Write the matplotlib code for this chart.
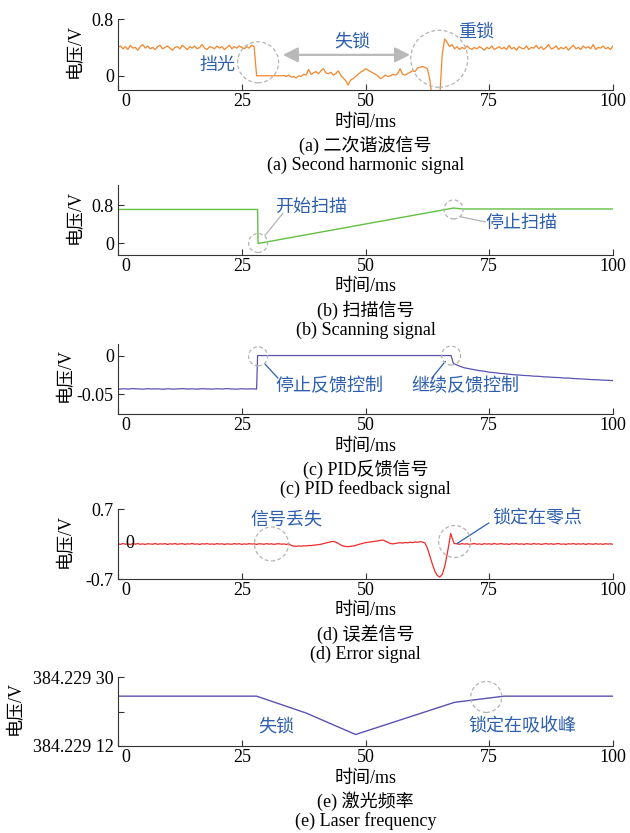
import matplotlib
matplotlib.use("Agg")
import matplotlib.pyplot as plt
from matplotlib.patches import Ellipse
from matplotlib.transforms import offset_copy
import numpy as np

plt.rcParams['font.family'] = ['Liberation Serif', 'Noto Sans CJK SC']
plt.rcParams['font.size'] = 13
plt.rcParams['axes.unicode_minus'] = False

# ---- (a) second harmonic signal, sampled every 0.5 ms ----
t_a = np.arange(0, 100.25, 0.5)
v_a = [
    # 0 - 27.5 ms, locked
    0.40, 0.42, 0.38, 0.41, 0.37, 0.43, 0.39, 0.40, 0.36, 0.41,
    0.44, 0.39, 0.42, 0.38, 0.40, 0.37, 0.41, 0.43, 0.38, 0.40,
    0.42, 0.39, 0.36, 0.40, 0.41, 0.38, 0.43, 0.40, 0.37, 0.41,
    0.39, 0.42, 0.38, 0.40, 0.44, 0.39, 0.37, 0.41, 0.40, 0.38,
    0.42, 0.39, 0.41, 0.37, 0.40, 0.43, 0.38, 0.41, 0.39, 0.42,
    0.40, 0.38, 0.41, 0.39, 0.43, 0.41,
    # 28 - 33.5 ms, light blocked
    0.0, 0.0, 0.0, 0.0, 0.0, 0.0, 0.0, 0.0, 0.0, 0.0, 0.0, 0.005,
    # 34 - 62.5 ms, unlocked
    -0.01, 0.01, -0.02, -0.01, -0.03, 0.00, -0.01, 0.02, 0.01, 0.09,
    0.02, 0.04, 0.06, 0.03, 0.07, 0.10, 0.04, 0.03, 0.05, 0.01,
    0.03, 0.07, 0.01, -0.03, -0.07, -0.13, -0.06, -0.04, -0.01, 0.02,
    0.05, 0.07, 0.10, 0.08, 0.06, 0.04, 0.02, 0.00, -0.04, -0.02,
    0.01, -0.01, 0.00, 0.02, 0.01, 0.03, 0.10, 0.02, 0.01, 0.03,
    0.05, 0.07, 0.06, 0.11, 0.12, 0.13, 0.12, 0.10,
    # 63 - 67.5 ms, relock
    -0.05, -0.35, -0.35, -0.35, -0.30, 0.30, 0.52, 0.47, 0.41, 0.44,
    # 68 - 100 ms, locked again
    0.38, 0.41, 0.37, 0.40, 0.38, 0.42, 0.39, 0.37, 0.40, 0.38,
    0.41, 0.39, 0.36, 0.40, 0.38, 0.42, 0.37, 0.39, 0.41, 0.38,
    0.40, 0.37, 0.43, 0.38, 0.40, 0.36, 0.41, 0.39, 0.38, 0.42,
    0.37, 0.40, 0.39, 0.43, 0.38, 0.41, 0.37, 0.40, 0.44, 0.38,
    0.39, 0.42, 0.37, 0.40, 0.38, 0.41, 0.36, 0.40, 0.43, 0.38,
    0.40, 0.37, 0.42, 0.39, 0.41, 0.38, 0.44, 0.37, 0.40, 0.39,
    0.42, 0.38, 0.40, 0.37, 0.42,
]

# ---- (b) scanning signal ----
t_b = [0, 28.2, 28.3, 67.8, 69.5, 100]
v_b = [0.71, 0.71, 0.0, 0.74, 0.72, 0.72]

# ---- (c) PID feedback signal ----
t_c = list(range(0, 29)) + [28.2, 67.3, 67.7] + list(range(68, 101))
v_c = [
    -0.0438, -0.0432, -0.0436, -0.0430, -0.0434, -0.0437, -0.0431, -0.0435,
    -0.0433, -0.0438, -0.0432, -0.0436, -0.0434, -0.0430, -0.0435, -0.0433,
    -0.0437, -0.0431, -0.0434, -0.0436, -0.0432, -0.0435, -0.0430, -0.0434,
    -0.0437, -0.0432, -0.0435, -0.0433, -0.0436,
    0.0, 0.0, -0.0095,
    -0.0110, -0.0138, -0.0160, -0.0172, -0.0185, -0.0196, -0.0204, -0.0217,
    -0.0222, -0.0231, -0.0236, -0.0243, -0.0250, -0.0253, -0.0259, -0.0262,
    -0.0268, -0.0270, -0.0277, -0.0279, -0.0284, -0.0286, -0.0292, -0.0293,
    -0.0299, -0.0302, -0.0306, -0.0309, -0.0314, -0.0315, -0.0320, -0.0322,
    -0.0326,
]

# ---- (d) error signal ----
t_d_peak = [62.5, 63.0, 63.5, 64.0, 64.5, 65.0, 65.5, 66.0, 66.5, 66.9, 67.2, 67.5, 67.9]
t_d = np.concatenate([np.arange(0, 62.25, 0.5), t_d_peak, np.arange(68.5, 100.25, 0.5)])
v_d = [
    # 0 - 34.5 ms
    0.005, -0.008, 0.010, -0.004, 0.002, -0.010, 0.007, -0.003, 0.009, -0.006,
    0.003, -0.009, 0.006, 0.000, -0.005, 0.011, -0.007, 0.004, -0.002, 0.008,
    -0.010, 0.005, -0.003, 0.009, -0.006, 0.002, 0.007, -0.008, 0.004, -0.001,
    0.010, -0.005, 0.003, -0.009, 0.006, -0.002, 0.008, -0.004, 0.001, -0.007,
    0.009, -0.003, 0.005, -0.010, 0.004, 0.000, -0.006, 0.008, -0.002, 0.006,
    -0.008, 0.003, -0.005, 0.007, -0.001, 0.004, -0.009, 0.005, 0.002, -0.006,
    0.008, -0.003, 0.004, -0.007, 0.002, 0.006, -0.004, 0.001, -0.008, 0.003,
    # 35 - 62 ms
    -0.030, -0.042, -0.046, -0.040, -0.043, -0.036, -0.038, -0.030, -0.033, -0.024,
    -0.020, -0.012, -0.005, 0.008, 0.020, 0.034, 0.045, 0.052, 0.036, 0.012,
    -0.020, -0.040, -0.050, -0.052, -0.046, -0.040, -0.030, -0.012, 0.002, 0.014,
    0.026, 0.034, 0.042, 0.048, 0.054, 0.062, 0.070, 0.080, 0.060, 0.034,
    0.010, 0.002, 0.012, 0.020, 0.026, 0.018, 0.030, 0.024, 0.036, 0.028,
    0.040, 0.034, 0.046, 0.040, 0.020,
    # 62.5 - 67.9 ms
    -0.08, -0.24, -0.40, -0.54, -0.63, -0.66, -0.61, -0.45, -0.20, 0.02, 0.21, 0.12, 0.01,
    # 68.5 - 100 ms
    0.004, -0.006, 0.009, -0.003, 0.006, -0.008, 0.002, 0.010, -0.005, 0.003,
    -0.009, 0.007, -0.002, 0.005, -0.007, 0.011, -0.004, 0.002, 0.008, -0.006,
    0.003, -0.010, 0.006, -0.001, 0.009, -0.005, 0.004, -0.008, 0.007, 0.000,
    -0.006, 0.010, -0.003, 0.005, -0.009, 0.002, 0.008, -0.004, 0.006, -0.007,
    0.003, 0.009, -0.005, 0.001, -0.008, 0.006, -0.002, 0.010, -0.006, 0.004,
    -0.003, 0.007, -0.009, 0.005, 0.001, -0.006, 0.008, -0.004, 0.003, -0.007,
    0.006, -0.002, 0.004, -0.005,
]

# ---- (e) laser frequency ----
t_e = [0, 28, 38, 48, 68, 78, 100]
v_e = [25, 25, 20.6, 15, 23.4, 25, 25]

x_ticks = [0, 25, 50, 75, 100]
x_tick_labels = ['', '25', '50', '75', '100']

BLUE = '#2d5fae'
RING = '#b3b3b3'
PURPLE = '#5b52b3'

W, H = 630, 833
fig = plt.figure(figsize=(W / 100, H / 100), dpi=100)


def panel(top, bottom):
    return fig.add_axes([118 / W, 1 - bottom / H, (613 - 118) / W, (bottom - top) / H])


def style(ax, ylim, yticks, ylabels, label_x, caption_cn, caption_en):
    ax.set_xlim(0, 100)
    ax.set_ylim(*ylim)
    for s in ['top', 'right']:
        ax.spines[s].set_visible(False)
    for s in ['left', 'bottom']:
        ax.spines[s].set_linewidth(0.8)
        ax.spines[s].set_color('#333333')
    ax.set_xticks(x_ticks)
    ax.set_xticklabels(x_tick_labels)
    ax.set_yticks(yticks)
    ax.set_yticklabels(ylabels)
    ax.tick_params(direction='in', length=4, width=0.8, labelsize=13, color='#333333')
    ax.tick_params(axis='x', pad=2)
    ax.tick_params(axis='y', pad=3)
    ax.set_ylabel('电压/V', fontsize=13)
    ax.yaxis.set_label_coords(label_x, 0.55)
    # the "0" sits a little to the right of the axis corner
    ax.text(0, 0, '0', transform=offset_copy(ax.transAxes, fig=fig, x=8, y=-2.8, units='dots'),
            ha='center', va='top', fontsize=13)
    for dy, s in [(32, '时间/ms'), (55.5, caption_cn), (75, caption_en)]:
        ax.text(0.5, 0, s, transform=offset_copy(ax.transAxes, fig=fig, y=-dy, units='dots'),
                ha='center', va='center', fontsize=13)


def ring(ax, x, y, d):
    # dashed circle of diameter d pixels
    bb = ax.get_position()
    x0, x1 = ax.get_xlim()
    y0, y1 = ax.get_ylim()
    w = d * (x1 - x0) / (bb.width * W)
    h = d * (y1 - y0) / (bb.height * H)
    ax.add_patch(Ellipse((x, y), w, h, fill=False, ec=RING, lw=0.9,
                         ls=(0, (3, 2)), clip_on=False, zorder=4))


def note(ax, x, y, s):
    ax.text(x, y, s, color=BLUE, fontsize=13, ha='center', va='center',
            family=['Noto Sans CJK SC'], zorder=5)


# (a)
ax = panel(19, 90)
ax.plot(t_a, v_a, color='#f5862c', lw=0.9)
style(ax, (-0.2, 0.8), [0, 0.8], ['0', '0.8'], -0.069,
      '(a) 二次谐波信号', '(a) Second harmonic signal')
ring(ax, 28.3, 0.19, 41)
ring(ax, 64.9, 0.24, 57)
ax.annotate('', xy=(59.0, 0.295), xytext=(33.3, 0.295),
            arrowprops=dict(arrowstyle='<|-|>,head_length=0.5,head_width=0.25',
                            color='#b9b9b9', lw=1.6, mutation_scale=18,
                            shrinkA=0, shrinkB=0))
note(ax, 20.2, 0.16, '挡光')
note(ax, 47.4, 0.48, '失锁')
note(ax, 72.3, 0.63, '重锁')

# (b)
ax = panel(185, 255)
ax.plot(t_b, v_b, color='#62c043', lw=1.0)
style(ax, (-0.24, 1.22), [0, 0.8], ['0', '0.8'], -0.069,
      '(b) 扫描信号', '(b) Scanning signal')
ring(ax, 28.3, 0.01, 19)
ring(ax, 67.8, 0.71, 19)
ax.plot([29.7, 33.3], [0.17, 0.63], color=RING, lw=0.9)
ax.plot([69.1, 74.2], [0.56, 0.45], color=RING, lw=0.9)
note(ax, 39.1, 0.76, '开始扫描')
note(ax, 81.6, 0.43, '停止扫描')

# (c)
ax = panel(344, 414)
ax.plot(t_c, v_c, color=PURPLE, lw=0.9)
style(ax, (-0.076, 0.015), [-0.05, 0], ['-0.05', '0'], -0.089,
      '(c) PID反馈信号', '(c) PID feedback signal')
ring(ax, 28.3, -0.001, 19)
ring(ax, 67.3, 0.0, 19)
ax.plot([29.7, 32.3], [-0.0111, -0.0293], color=BLUE, lw=0.9)
ax.plot([66.1, 63.4], [-0.0078, -0.0293], color=BLUE, lw=0.9)
note(ax, 42.8, -0.0402, '停止反馈控制')
note(ax, 70.1, -0.0402, '继续反馈控制')

# (d)
ax = panel(509, 579)
ax.plot(t_d, v_d, color='#ee2a2a', lw=0.9)
style(ax, (-0.7, 0.7), [-0.7, 0.7], ['-0.7', '0.7'], -0.089,
      '(d) 误差信号', '(d) Error signal')
ax.text(2.4, 0, '0', ha='center', va='center', fontsize=13, zorder=5)
ring(ax, 31.0, 0.0, 34)
ring(ax, 68.0, 0.05, 32)
ax.plot([68.5, 74.9], [0.01, 0.42], color=BLUE, lw=0.9)
note(ax, 34.0, 0.49, '信号丢失')
note(ax, 84.7, 0.52, '锁定在零点')

# (e)
ax = panel(677, 746)
ax.plot(t_e, v_e, color=PURPLE, lw=1.0)
style(ax, (12, 30), [12, 21, 30], ['384.229 12', '', '384.229 30'], -0.19,
      '(e) 激光频率', '(e) Laser frequency')
ring(ax, 74.4, 24.8, 31)
note(ax, 31.9, 17.0, '失锁')
note(ax, 81.7, 17.0, '锁定在吸收峰')

fig.savefig('out.png', dpi=100)
